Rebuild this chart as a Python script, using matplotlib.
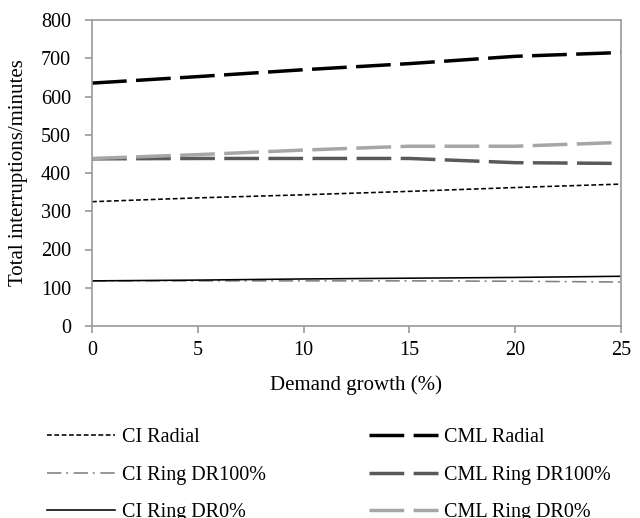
import matplotlib
matplotlib.use("Agg")
import matplotlib.pyplot as plt

plt.rcParams['font.family'] = ['Liberation Serif', 'DejaVu Serif']

x = [0, 5, 10, 15, 20, 25]
ci_radial = [325, 335, 343, 352, 362, 371]
ci_ring_dr100 = [118, 118, 118, 118, 117, 115]
ci_ring_dr0 = [118, 120, 123, 125, 127, 130]
cml_radial = [635, 652, 670, 686, 705, 715]
cml_ring_dr100 = [437, 438, 438, 438, 427, 425]
cml_ring_dr0 = [438, 448, 460, 470, 470, 480]

fig = plt.figure(figsize=(6.4, 5.18), dpi=100)
ax = fig.add_axes([92/640, 1 - 326/518, (621 - 92)/640, (326 - 20)/518])

thin = 1.15
thick = 2.5
h1, = ax.plot(x, ci_radial, color='black', lw=thin, ls=(0, (3, 1.6)), label='CI Radial')
h2, = ax.plot(x, ci_ring_dr100, color='#808080', lw=thin, ls=(0, (9, 3, 1.2, 3.5)), label='CI Ring DR100%')
h3, = ax.plot(x, ci_ring_dr0, color='black', lw=thin, ls='-', label='CI Ring DR0%')
h4, = ax.plot(x, cml_radial, color='black', lw=thick, ls=(0, (10, 2.7)), label='CML Radial')
h5, = ax.plot(x, cml_ring_dr100, color='#595959', lw=thick, ls=(0, (10, 2.7)), label='CML Ring DR100%')
h6, = ax.plot(x, cml_ring_dr0, color='#a6a6a6', lw=thick, ls=(0, (10, 2.7)), label='CML Ring DR0%')

ax.set_xlim(0, 25)
ax.set_ylim(0, 800)
ax.set_xticks(range(0, 26, 5))
ax.set_yticks(range(0, 801, 100))
for s in ax.spines.values():
    s.set_color('#9a9a9a')
    s.set_linewidth(1.2)
ax.tick_params(axis='both', colors='#9a9a9a', labelcolor='black', labelsize=14.5,
               length=5, width=1.2, direction='out')
ax.tick_params(axis='y', pad=10)
ax.tick_params(axis='x', pad=6)
ax.set_xlabel('Demand growth (%)', fontsize=15, labelpad=11)
ax.set_ylabel('Total interruptions/minutes', fontsize=15)
ax.yaxis.set_label_coords(-(92 - 28)/529, 0.5)

fig.legend(handles=[h1, h2, h3, h4, h5, h6], loc='center', bbox_to_anchor=(329/640, 1 - 475/518),
           ncol=2, frameon=False, fontsize=14.5, handlelength=3.38, handletextpad=0.32,
           columnspacing=5.15, labelspacing=0.92)

fig.savefig('out.png', dpi=100)
